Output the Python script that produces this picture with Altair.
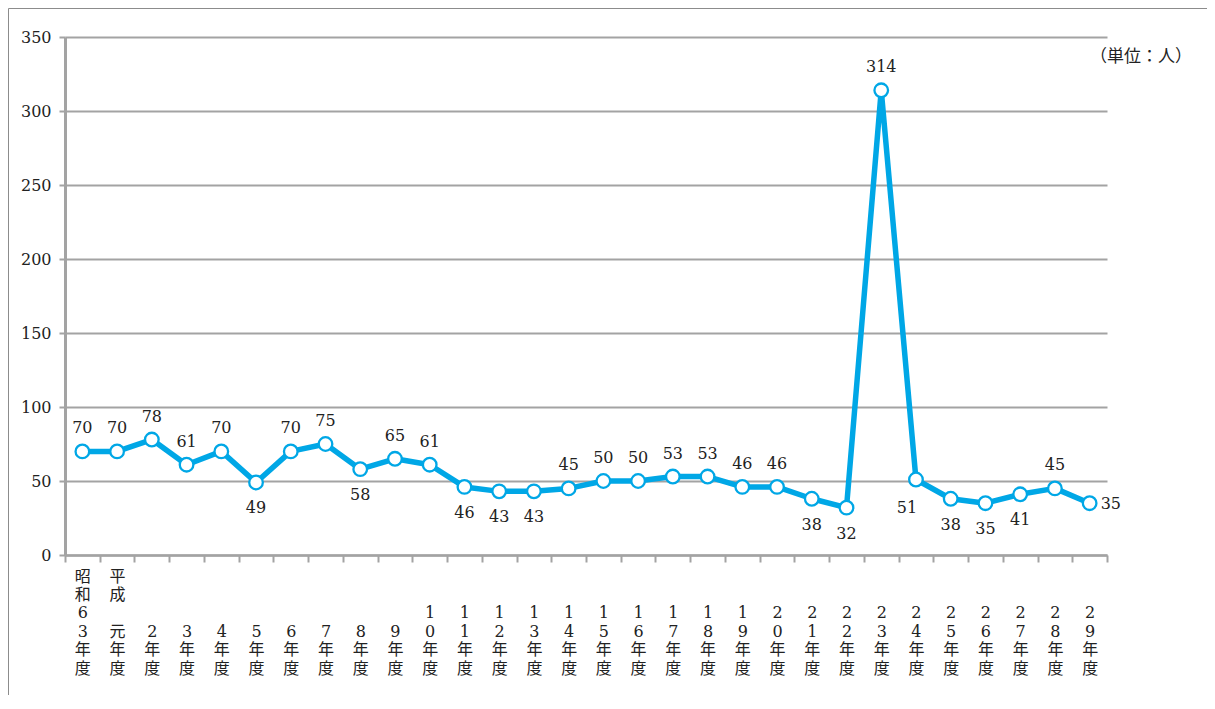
import altair as alt
import pandas as pd

years = ["昭和63年度", "平成　元年度", "2年度", "3年度", "4年度", "5年度", "6年度", "7年度",
         "8年度", "9年度", "10年度", "11年度", "12年度", "13年度", "14年度", "15年度",
         "16年度", "17年度", "18年度", "19年度", "20年度", "21年度", "22年度", "23年度",
         "24年度", "25年度", "26年度", "27年度", "28年度", "29年度"]
values = [70, 70, 78, 61, 70, 49, 70, 75, 58, 65, 61, 46, 43, 43, 45, 50, 50, 53, 53, 46,
          46, 38, 32, 314, 51, 38, 35, 41, 45, 35]
label_pos = ["a", "a", "a", "a", "a", "b", "a", "a", "b", "a", "a", "b", "b", "b", "a", "a",
             "a", "a", "a", "a", "a", "b", "b", "a", "bl", "b", "b", "b", "a", "r"]
unit_label = "（単位：人）"

df = pd.DataFrame({"year": years, "value": values, "pos": label_pos})

FONT = "DejaVu Serif, Liberation Serif, Noto Sans CJK JP, serif"
BLUE = "#00A7E6"
GRAY = "#A3A3A3"
TXT = "#222222"

W, H = 1042, 518
BLANK = "\u2800"

x_enc = alt.X(
    "year:N", sort=years,
    scale=alt.Scale(type="band", paddingInner=0, paddingOuter=0),
    axis=alt.Axis(
        title=None, labelAngle=0,
        labelExpr=f"split(pad(replace(datum.label, '　', '{BLANK}'), 6, '{BLANK}', 'left'), '')",
        labelLineHeight=18.4, labelBaseline="top", labelPadding=6,
        labelFontSize=16, labelFont=FONT, labelColor=TXT, labelOverlap=False,
        labelLimit=0, tickBand="extent", tickSize=7, tickColor=GRAY, tickWidth=2,
        domainColor=GRAY, domainWidth=2.5, grid=False,
    ),
)
y_enc = alt.Y(
    "value:Q",
    scale=alt.Scale(domain=[0, 350], nice=False),
    axis=alt.Axis(
        title=None, values=list(range(0, 351, 50)), grid=True, gridColor=GRAY,
        gridWidth=2, domainColor=GRAY, domainWidth=3, tickSize=6, tickColor=GRAY,
        tickWidth=2, labelPadding=8, labelFontSize=16, labelFont=FONT, labelColor=TXT,
    ),
)

base = alt.Chart(df).encode(x=x_enc, y=y_enc)

line = base.mark_line(color=BLUE, strokeWidth=5.5, strokeJoin="round")
pts = base.mark_point(shape="circle", filled=True, fill="white", stroke=BLUE,
                      strokeWidth=2.3, size=185, opacity=1)

def labels(code, dx, dy, align="center"):
    return base.transform_filter(alt.datum.pos == code).mark_text(
        dx=dx, dy=dy, align=align, baseline="middle", fontSize=16, font=FONT, color=TXT
    ).encode(text="value:Q")

lab_a = labels("a", 0, -23)
lab_b = labels("b", 0, 26)
lab_bl = labels("bl", -9, 28)
lab_r = labels("r", 11, 1, align="left")

one = pd.DataFrame({"k": [0]})
unit = alt.Chart(one).mark_text(
    fontSize=17, font=FONT, color=TXT, align="center", baseline="middle"
).encode(x=alt.value(1076), y=alt.value(20), text=alt.value(unit_label))

frame_left = alt.Chart(one).mark_rule(color="#8c8c8c", strokeWidth=1).encode(
    x=alt.value(-56.5), y=alt.value(-28.5), y2=alt.value(H + 140))
frame_top = alt.Chart(one).mark_rule(color="#8c8c8c", strokeWidth=1).encode(
    x=alt.value(-56.5), x2=alt.value(W + 100), y=alt.value(-28.5))

chart = alt.layer(
    frame_left, frame_top, line, pts, lab_a, lab_b, lab_bl, lab_r, unit
).properties(
    width=W, height=H,
    padding={"left": 57, "top": 29, "right": 100, "bottom": 140},
    autosize=alt.AutoSizeParams(type="none"),
    background="white",
).configure_view(stroke=None)

chart.save("out.html", embed_options={"renderer": "svg", "actions": False})
